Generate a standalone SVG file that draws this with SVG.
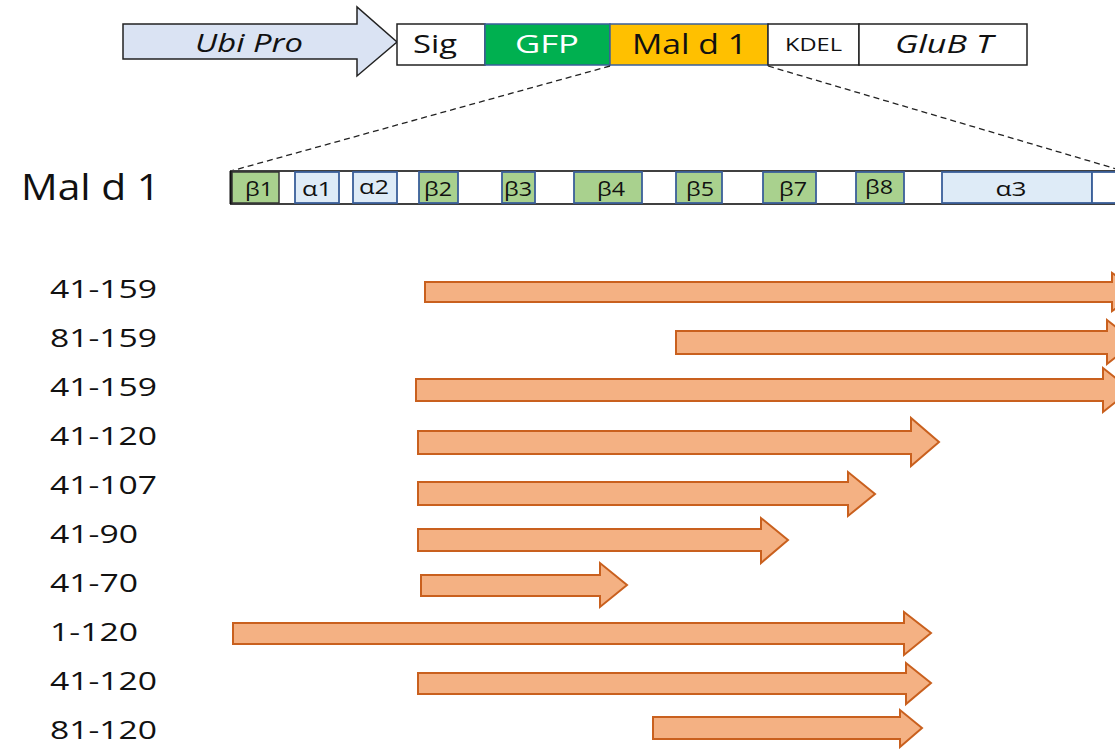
<svg xmlns="http://www.w3.org/2000/svg" width="1115" height="749" viewBox="0 0 1115 749">
<style>
text{font-family:"Open Sans","Liberation Sans",sans-serif;fill:#111}
.it{font-style:italic}
.blk{stroke:#222;stroke-width:1.5}
.seg{stroke:#3A5F9A;stroke-width:1.8}
.beta{fill:#A9D18E}
.alpha{fill:#DEEBF7}
.lbl{font-size:20px;text-anchor:middle}
.rng{font-size:26px}
.arr{fill:#F4B183;stroke:#C9601E;stroke-width:2;stroke-linejoin:miter}
.dash{stroke:#222;stroke-width:1.3;stroke-dasharray:6 4;fill:none}
</style>
<rect width="1115" height="749" fill="#fff"/>

<g id="construct">
  <g id="ubi-pro">
    <polygon points="123,24 357,24 357,7 397,42 357,76 357,59 123,59" fill="#DAE3F3" stroke="#222" stroke-width="1.5"/>
    <text x="195" y="52" class="it" font-size="26" textLength="108" lengthAdjust="spacingAndGlyphs">Ubi Pro</text>
  </g>
  <g id="sig">
    <rect x="397" y="24" width="88" height="41" fill="#fff" class="blk"/>
    <text x="413" y="53" font-size="26" textLength="44" lengthAdjust="spacingAndGlyphs">Sig</text>
  </g>
  <g id="gfp">
    <rect x="485" y="24" width="125" height="41" fill="#00B050" stroke="#3A5F9A" stroke-width="1.5"/>
    <text x="515" y="53" font-size="26" style="fill:#fff" textLength="64" lengthAdjust="spacingAndGlyphs">GFP</text>
  </g>
  <g id="mald1-top">
    <rect x="610" y="24" width="158" height="41" fill="#FFC000" stroke="#3A5F9A" stroke-width="1.5"/>
    <text x="632" y="54" font-size="27" textLength="115" lengthAdjust="spacingAndGlyphs">Mal d 1</text>
  </g>
  <g id="kdel">
    <rect x="768" y="24" width="91" height="41" fill="#fff" class="blk"/>
    <text x="785" y="51" font-size="19" textLength="57" lengthAdjust="spacingAndGlyphs">KDEL</text>
  </g>
  <g id="glub">
    <rect x="859" y="24" width="168" height="41" fill="#fff" class="blk"/>
    <text x="895" y="53" class="it" font-size="26" textLength="98" lengthAdjust="spacingAndGlyphs">GluB T</text>
  </g>
</g>

<g id="connectors">
  <line x1="610" y1="66" x2="231" y2="171" class="dash"/>
  <line x1="768" y1="66" x2="1130" y2="173" class="dash"/>
</g>

<g id="mald1-map">
  <text x="21" y="200" font-size="36" textLength="139" lengthAdjust="spacingAndGlyphs">Mal d 1</text>
  <rect x="231" y="171" width="900" height="33" fill="#fff" stroke="#404040" stroke-width="2"/>
  <line x1="231" y1="171" x2="231" y2="204" stroke="#111" stroke-width="3"/>
  <g id="b1"><rect x="232" y="172" width="47" height="31" class="beta" stroke="#333" stroke-width="1.5"/><text x="259" y="196" class="lbl" textLength="28" lengthAdjust="spacingAndGlyphs">β1</text></g>
  <g id="a1"><rect x="295" y="172" width="44" height="31" class="alpha seg"/><text x="317" y="196" class="lbl" textLength="30" lengthAdjust="spacingAndGlyphs">α1</text></g>
  <g id="a2"><rect x="353" y="172" width="44" height="31" class="alpha seg"/><text x="374" y="194" class="lbl" textLength="30" lengthAdjust="spacingAndGlyphs">α2</text></g>
  <g id="b2"><rect x="419" y="172" width="39" height="31" class="beta seg"/><text x="438" y="196" class="lbl" textLength="28" lengthAdjust="spacingAndGlyphs">β2</text></g>
  <g id="b3"><rect x="502" y="172" width="33" height="31" class="beta seg"/><text x="518" y="196" class="lbl" textLength="28" lengthAdjust="spacingAndGlyphs">β3</text></g>
  <g id="b4"><rect x="574" y="172" width="68" height="31" class="beta seg"/><text x="611" y="196" class="lbl" textLength="28" lengthAdjust="spacingAndGlyphs">β4</text></g>
  <g id="b5"><rect x="676" y="172" width="46" height="31" class="beta seg"/><text x="700" y="196" class="lbl" textLength="28" lengthAdjust="spacingAndGlyphs">β5</text></g>
  <g id="b7"><rect x="763" y="172" width="53" height="31" class="beta seg"/><text x="793" y="196" class="lbl" textLength="28" lengthAdjust="spacingAndGlyphs">β7</text></g>
  <g id="b8"><rect x="856" y="172" width="48" height="31" class="beta seg"/><text x="879" y="194" class="lbl" textLength="28" lengthAdjust="spacingAndGlyphs">β8</text></g>
  <g id="a3"><rect x="942" y="172" width="150" height="31" class="alpha seg"/><text x="1011" y="196" class="lbl" textLength="31" lengthAdjust="spacingAndGlyphs">α3</text></g>
  <g id="end"><rect x="1092" y="172" width="40" height="31" fill="#fff" class="seg"/></g>
</g>

<g id="ranges">
  <g id="r1"><text x="50" y="298" class="rng" textLength="107" lengthAdjust="spacingAndGlyphs">41-159</text>
    <polygon class="arr" points="425,282 1112,282 1112,273 1140,292 1112,311 1112,302 425,302"/></g>
  <g id="r2"><text x="50" y="347" class="rng" textLength="107" lengthAdjust="spacingAndGlyphs">81-159</text>
    <polygon class="arr" points="676,331 1107,331 1107,320 1135,342 1107,364 1107,354 676,354"/></g>
  <g id="r3"><text x="50" y="396" class="rng" textLength="107" lengthAdjust="spacingAndGlyphs">41-159</text>
    <polygon class="arr" points="416,379 1103,379 1103,368 1131,390 1103,412 1103,401 416,401"/></g>
  <g id="r4"><text x="50" y="445" class="rng" textLength="107" lengthAdjust="spacingAndGlyphs">41-120</text>
    <polygon class="arr" points="418,431 911,431 911,418 939,442 911,466 911,454 418,454"/></g>
  <g id="r5"><text x="50" y="494" class="rng" textLength="107" lengthAdjust="spacingAndGlyphs">41-107</text>
    <polygon class="arr" points="418,482 848,482 848,472 875,494 848,516 848,505 418,505"/></g>
  <g id="r6"><text x="50" y="543" class="rng" textLength="88" lengthAdjust="spacingAndGlyphs">41-90</text>
    <polygon class="arr" points="418,529 761,529 761,518 788,540 761,563 761,551 418,551"/></g>
  <g id="r7"><text x="50" y="592" class="rng" textLength="88" lengthAdjust="spacingAndGlyphs">41-70</text>
    <polygon class="arr" points="421,575 600,575 600,563 627,585 600,607 600,596 421,596"/></g>
  <g id="r8"><text x="50" y="641" class="rng" textLength="88" lengthAdjust="spacingAndGlyphs">1-120</text>
    <polygon class="arr" points="233,623 904,623 904,612 931,633 904,655 904,644 233,644"/></g>
  <g id="r9"><text x="50" y="690" class="rng" textLength="107" lengthAdjust="spacingAndGlyphs">41-120</text>
    <polygon class="arr" points="418,673 906,673 906,663 931,683 906,704 906,694 418,694"/></g>
  <g id="r10"><text x="50" y="739" class="rng" textLength="107" lengthAdjust="spacingAndGlyphs">81-120</text>
    <polygon class="arr" points="653,717 900,717 900,710 922,728 900,747 900,739 653,739"/></g>
</g>
</svg>
